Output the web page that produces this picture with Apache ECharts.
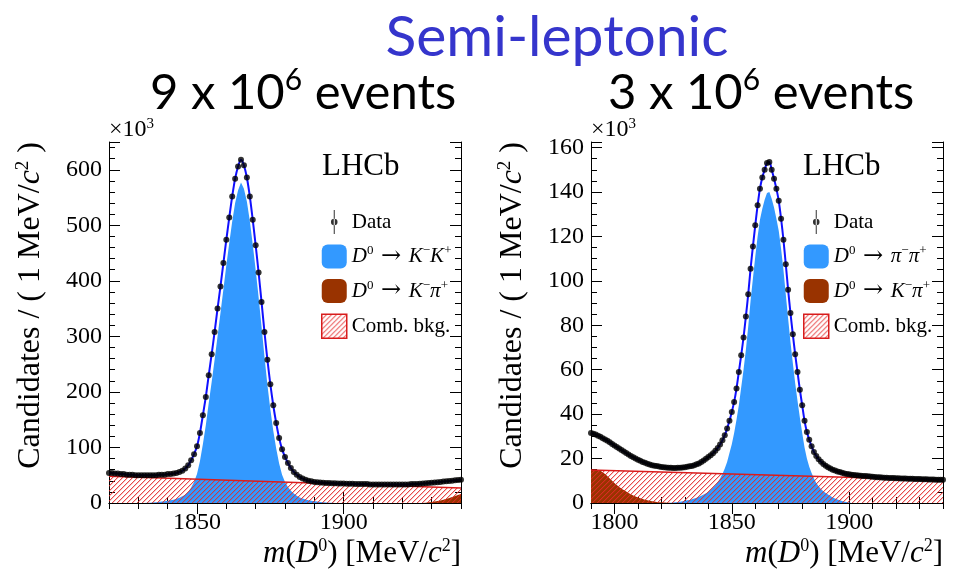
<!DOCTYPE html>
<html><head><meta charset="utf-8">
<script src="https://cdn.jsdelivr.net/npm/echarts@6/dist/echarts.min.js"></script>
<style>html,body{margin:0;padding:0;background:#fff}#c{width:957px;height:569px}</style>
</head><body><div id="c"></div>
<script>
// ---------------- data (values in units of 10^3 candidates / MeV) ----------------
// Left panel: D0 -> K- K+
const massStartL = 1820;
const dataL = [54,54,53,53,52,52,51,51,51,50,
 50,50,50,50,50,50,50,51,51,51,
 52,52,53,54,56,58,62,68,77,88,
 102,126,158,191,230,268,308,350,390,432,
 474,514,552,584,606,618,608,586,552,510,
 464,415,362,308,258,214,176,144,117,97,
 83,72,63,56,51,47,44,42,40,39,
 38,37.5,37,36.5,36,36,35.5,35.5,35,35,
 35,34.5,34.5,34.5,34,34,34,34,34,33.5,
 33.5,33.5,33.5,33.5,33.5,33.5,33.5,33.5,33.5,33.5,
 33.5,33.5,33.5,34,34,34,34.5,35,35.5,36,
 36.5,37,37.5,38,38.5,39,39.5,40,41,41.5,
 42];
const sigStartL = 1832;
const sigL = [0,0.3,0.6,1,1.4,1.9,2.5,3.2,4,5,
 6,7.5,9.5,12,15,20,28,38,52,75,
 106,140,180,218,258,300,342,385,428,468,
 507,540,563,577,566,543,508,466,420,371,
 318,264,213,169,130,98,71,51,38,29,
 22,17,13,10,8,6.5,5,4,3.2,2.5,
 1.9,1.4,1,0.6,0.3,0];
const combMassL = [1820, 1940];
const combL = [48, 27];
const misMassL = [1924,1926,1928,1930,1932,1934,1936,1938,1940];
const misL = [0,0.2,0.6,1.8,3.6,6,9,12.5,16];

// Right panel: D0 -> pi- pi+
const massStartR = 1790;
const dataR = [31.5,31.2,30.8,30.3,29.8,29.2,28.6,28,27.3,26.6,
 25.9,25.2,24.5,23.9,23.2,22.5,21.8,21.2,20.6,20,
 19.5,19,18.5,18.1,17.7,17.3,17,16.8,16.6,16.4,
 16.2,16.1,16,15.9,15.9,15.8,15.8,15.9,15.9,16,
 16.1,16.3,16.5,16.7,17,17.4,17.8,18.4,19.1,19.9,
 20.7,21.5,22.4,23.5,24.8,26.3,28.2,30.5,33.5,37,
 41,45.5,51.5,59,66.5,74.5,84,94,105.5,115.5,
 125,134,141.5,146.5,150,153,153.5,150,146,141.5,
 136,128,118.5,107.5,96,85.5,76,67,59,51,
 44,37,32,28.5,25.5,23,21.2,19.7,18.6,17.6,
 16.8,16.1,15.5,15,14.6,14.2,13.9,13.6,13.3,13.1,
 12.9,12.7,12.6,12.5,12.4,12.3,12.2,12.1,12,11.9,
 11.8,11.7,11.6,11.6,11.5,11.4,11.4,11.3,11.2,11.2,
 11.1,11.1,11,11,11,10.9,10.9,10.9,10.8,10.8,
 10.8,10.7,10.7,10.7,10.6,10.6,10.6,10.5,10.5,10.5,
 10.5];
const sigStartR = 1822;
const sigR = [0,0.05,0.1,0.2,0.3,0.45,0.6,0.8,1,1.2,
 1.4,1.7,2,2.4,2.8,3.3,3.8,4.4,5,6,
 7,8,9.5,11,13,15.5,18.5,22.5,26.5,31.5,
 37.5,44,52,60,69,79.5,91,101,111,120,
 127.5,132.5,136.5,139.5,140,137,133,128,122.5,114.5,
 105,94,83,72.5,63,54,46,38.5,31.5,25,
 20,16.3,13.5,11,9,7.5,6.3,5.3,4.5,3.8,
 3.1,2.5,2,1.6,1.2,0.9,0.6,0.4,0.2,0];
const combMassR = [1790, 1940];
const combR = [14.8, 10.4];
const misMassR = [1790,1792,1794,1796,1798,1800,1802,1804,1806,1808,1810,1812,1814,1816,1818,1820,1824];
const misR = [15,15,14.5,13,11,9,7.2,5.8,4.5,3.4,2.5,1.8,1.2,0.8,0.5,0.3,0];

// axis ticks
const xMajorL = [1850, 1900];
const xMajorR = [1800, 1850, 1900];
const yMaxL = 650, yMaxR = 162.5;

// ---------------- helpers ----------------
const SERIF = '"Liberation Serif", "DejaVu Serif", serif';
function pairs(start, arr) { return arr.map((v, i) => [start + i, v]); }
function zip(xs, ys) { return xs.map((x, i) => [x, ys[i]]); }

// red "////" hatch tile
function makeHatch() {
  const s = 5;
  const c = document.createElement('canvas');
  c.width = s; c.height = s;
  const g = c.getContext('2d');
  const img = g.createImageData(s, s);
  const put = (x, y, a) => {
    const k = (y * s + ((x % s) + s) % s) * 4;
    img.data[k] = 228; img.data[k + 1] = 40; img.data[k + 2] = 40; img.data[k + 3] = a;
  };
  for (let y = 0; y < s; y++) {
    const x = s - 1 - y;
    put(x, y, 215);
    put(x + 1, y, 70);
  }
  g.putImageData(img, 0, 0);
  return c;
}
const hatch = { image: makeHatch(), repeat: 'repeat' };
const RED = '#d81c1c', BLUEFILL = '#3399ff', BROWN = '#993300';

function axesFor(gi, xMin, xMax, xMajor, yMax, yMajorInt, yMinorInt) {
  const base = { type: 'value', gridIndex: gi, splitLine: { show: false } };
  const lineOn = { show: true, lineStyle: { color: '#000', width: 1 } };
  const tick = (len, extra) => Object.assign({ show: true, inside: true, length: len, lineStyle: { color: '#000', width: 1 } }, extra || {});
  const xs = [
    Object.assign({}, base, { position: 'bottom', min: xMin, max: xMax, interval: 10, axisLine: lineOn,
      axisTick: tick(6),
      axisLabel: { show: true, margin: 8, color: '#000', fontFamily: SERIF, fontSize: 24,
        formatter: v => xMajor.indexOf(v) >= 0 ? String(v) : '' } }),
    Object.assign({}, base, { position: 'bottom', min: xMin, max: xMax, axisLine: { show: false },
      axisTick: tick(11, { customValues: xMajor }), axisLabel: { show: false } }),
    Object.assign({}, base, { position: 'top', min: xMin, max: xMax, interval: 10, axisLine: lineOn,
      axisTick: tick(6), axisLabel: { show: false } }),
    Object.assign({}, base, { position: 'top', min: xMin, max: xMax, axisLine: { show: false },
      axisTick: tick(11, { customValues: xMajor }), axisLabel: { show: false } })
  ];
  const ys = [
    Object.assign({}, base, { position: 'left', min: 0, max: yMax, interval: yMajorInt, axisLine: lineOn,
      axisTick: tick(11),
      axisLabel: { show: true, margin: 7, color: '#000', fontFamily: SERIF, fontSize: 24,
        formatter: v => (Math.abs(v % yMajorInt) < 1e-9 ? String(v) : '') } }),
    Object.assign({}, base, { position: 'left', min: 0, max: yMax, interval: yMinorInt, axisLine: { show: false },
      axisTick: tick(6), axisLabel: { show: false } }),
    Object.assign({}, base, { position: 'right', min: 0, max: yMax, interval: yMajorInt, axisLine: lineOn,
      axisTick: tick(11), axisLabel: { show: false } }),
    Object.assign({}, base, { position: 'right', min: 0, max: yMax, interval: yMinorInt, axisLine: { show: false },
      axisTick: tick(6), axisLabel: { show: false } })
  ];
  return { xs, ys };
}

function panelSeries(ai, dStart, data, sStart, sig, misM, mis, combM, comb, sigName) {
  const common = { xAxisIndex: ai, yAxisIndex: ai, silent: true, animation: false };
  return [
    Object.assign({}, common, { type: 'line', name: sigName, data: pairs(sStart, sig), symbol: 'none',
      lineStyle: { width: 0 }, itemStyle: { color: BLUEFILL }, areaStyle: { color: BLUEFILL, opacity: 1 }, z: 2 }),
    Object.assign({}, common, { type: 'line', name: 'misKpi', data: zip(misM, mis), symbol: 'none', smooth: 0.3,
      lineStyle: { width: 0 }, itemStyle: { color: BROWN }, areaStyle: { color: BROWN, opacity: 1 }, z: 3 }),
    Object.assign({}, common, { type: 'line', name: 'comb', data: zip(combM, comb), symbol: 'none',
      lineStyle: { color: RED, width: 1.5 }, itemStyle: { color: RED }, areaStyle: { color: hatch, opacity: 1 }, z: 4 }),
    Object.assign({}, common, { type: 'line', name: 'fit', data: pairs(dStart, data), symbol: 'none', smooth: 0.3,
      lineStyle: { color: '#1010ff', width: 2 }, itemStyle: { color: '#1010ff' }, z: 5 }),
    Object.assign({}, common, { type: 'scatter', name: 'Data', data: pairs(dStart, data), symbol: 'circle', symbolSize: 6,
      itemStyle: { color: '#000' }, z: 6 })
  ];
}

const L = axesFor(0, 1820, 1940, xMajorL, yMaxL, 100, 20);
const R = axesFor(1, 1790, 1940, xMajorR, yMaxR, 20, 5);

const legendText = {
  Data: '{t|Data}',
  sigKK: '{i|D}{s|0}{a| \u2192 }{i|K}{s|\u2212}{i|K}{s|+}',
  sigPiPi: '{i|D}{s|0}{a| \u2192 }{i|\u03c0}{s|\u2212}{i|\u03c0}{s|+}',
  misKpi: '{i|D}{s|0}{a| \u2192 }{i|K}{s|\u2212}{i|\u03c0}{s|+}',
  comb: '{t|Comb. bkg.}'
};
const legendRich = {
  t: { fontFamily: SERIF, fontSize: 21, lineHeight: 24, color: '#000', verticalAlign: 'middle' },
  a: { fontFamily: '"DejaVu Serif", serif', fontSize: 24, lineHeight: 24, color: '#000', verticalAlign: 'middle' },
  i: { fontFamily: SERIF, fontSize: 21, lineHeight: 24, color: '#000', fontStyle: 'italic', verticalAlign: 'middle' },
  s: { fontFamily: SERIF, fontSize: 13, lineHeight: 13, color: '#000', verticalAlign: 'top' }
};
const dataIcon = 'path://M2.5,0L3.3,0L3.3,19L2.5,19Z M0.3,9.5A2.6,2.6,0,1,0,5.5,9.5A2.6,2.6,0,1,0,0.3,9.5Z';
function legendFor(left, sigName) {
  return {
    orient: 'vertical', left: left, top: 210, padding: 0, itemWidth: 25, itemHeight: 24, itemGap: 10.5,
    selectedMode: false, formatter: n => legendText[n],
    textStyle: { fontFamily: SERIF, fontSize: 21, color: '#000', rich: legendRich },
    data: [
      { name: 'Data', icon: dataIcon, itemStyle: { color: '#000', borderWidth: 0 } },
      { name: sigName, icon: 'roundRect', itemStyle: { color: BLUEFILL, borderWidth: 0 } },
      { name: 'misKpi', icon: 'roundRect', itemStyle: { color: BROWN, borderWidth: 0 } },
      { name: 'comb', icon: 'rect', itemStyle: { color: hatch, borderColor: RED, borderWidth: 1.5 } }
    ]
  };
}

const titleRich = {
  a: { fontFamily: 'Lato', fontSize: 49, lineHeight: 56, verticalAlign: 'middle', fill: '#000' },
  s: { fontFamily: 'Lato', fontSize: 30, lineHeight: 30, verticalAlign: 'top', fill: '#000' }
};
const axRich = {
  n: { fontFamily: SERIF, fontSize: 31, lineHeight: 34, verticalAlign: 'middle', fill: '#000' },
  i: { fontFamily: SERIF, fontSize: 31, lineHeight: 34, fontStyle: 'italic', verticalAlign: 'middle', fill: '#000' },
  s: { fontFamily: SERIF, fontSize: 18, lineHeight: 18, verticalAlign: 'top', fill: '#000' }
};
const yRich = {
  n: { fontFamily: SERIF, fontSize: 32, lineHeight: 34, verticalAlign: 'middle', fill: '#000' },
  i: { fontFamily: SERIF, fontSize: 32, lineHeight: 34, fontStyle: 'italic', verticalAlign: 'middle', fill: '#000' },
  s: { fontFamily: SERIF, fontSize: 19, lineHeight: 18, verticalAlign: 'top', fill: '#000' }
};
const smallRich = {
  n: { fontFamily: SERIF, fontSize: 24, lineHeight: 26, verticalAlign: 'middle', fill: '#000' },
  s: { fontFamily: SERIF, fontSize: 15, lineHeight: 15, verticalAlign: 'top', fill: '#000' }
};
function txt(x, y, text, rich, align, rot) {
  const o = { type: 'text', x: x, y: y, silent: true,
    style: { text: text, rich: rich, align: align || 'left', verticalAlign: 'middle', fill: '#000' } };
  if (rot) o.rotation = rot;
  return o;
}

const option = {
  animation: false,
  backgroundColor: '#fff',
  grid: [
    { left: 109, top: 142, width: 352, height: 361, containLabel: false, outerBoundsMode: 'none' },
    { left: 591, top: 142, width: 352, height: 361, containLabel: false, outerBoundsMode: 'none' }
  ],
  xAxis: L.xs.concat(R.xs),
  yAxis: L.ys.concat(R.ys),
  legend: [legendFor(321, 'sigKK'), legendFor(803, 'sigPiPi')],
  series: panelSeries(0, massStartL, dataL, sigStartL, sigL, misMassL, misL, combMassL, combL, 'sigKK')
    .concat(panelSeries(4, massStartR, dataR, sigStartR, sigR, misMassR, misR, combMassR, combR, 'sigPiPi')),
  graphic: [
    { type: 'text', x: 557, y: 38, silent: true,
      style: { text: 'Semi-leptonic', fontFamily: 'Lato', fontSize: 57, fill: '#3535cc', align: 'center', verticalAlign: 'middle' } },
    txt(150, 93, '{a|9 x 10}{s|6}{a| events}', titleRich),
    txt(608, 93, '{a|3 x 10}{s|6}{a| events}', titleRich),
    txt(109, 130, '{n|\u00d710}{s|3}', smallRich),
    txt(591, 130, '{n|\u00d710}{s|3}', smallRich),
    { type: 'text', x: 322, y: 167, silent: true, style: { text: 'LHCb', fontFamily: SERIF, fontSize: 31, fill: '#000', align: 'left', verticalAlign: 'middle' } },
    { type: 'text', x: 803, y: 167, silent: true, style: { text: 'LHCb', fontFamily: SERIF, fontSize: 31, fill: '#000', align: 'left', verticalAlign: 'middle' } },
    txt(31, 142, '{n|Candidates / ( 1 MeV/}{i|c}{s|2}{n| )}', yRich, 'right', Math.PI / 2),
    txt(513, 142, '{n|Candidates / ( 1 MeV/}{i|c}{s|2}{n| )}', yRich, 'right', Math.PI / 2),
    txt(461, 554, '{i|m}{n|(}{i|D}{s|0}{n|) [MeV/}{i|c}{s|2}{n|]}', axRich, 'right'),
    txt(943, 554, '{i|m}{n|(}{i|D}{s|0}{n|) [MeV/}{i|c}{s|2}{n|]}', axRich, 'right')
  ]
};

const chart = echarts.init(document.getElementById('c'), null, { renderer: 'canvas' });
chart.setOption(option);
</script>
</body></html>
